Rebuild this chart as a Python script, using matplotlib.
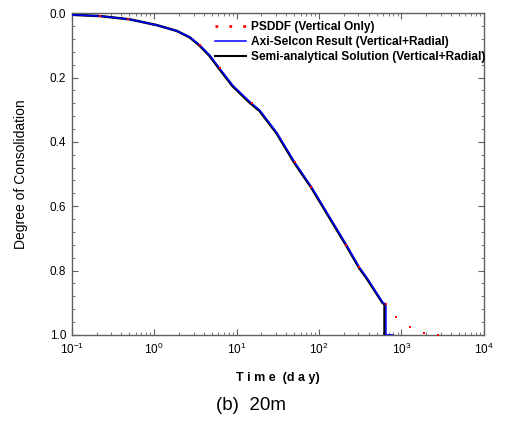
import numpy as np
import matplotlib
matplotlib.use('Agg')
import matplotlib.pyplot as plt
from matplotlib.lines import Line2D
from matplotlib.ticker import LogLocator, MultipleLocator, FixedLocator

plt.rcParams['font.family'] = ['Liberation Sans', 'DejaVu Sans']

# PSDDF (vertical only) - sparse red dots
t_psddf = [0.22, 0.48, 3.6, 6.3, 15.4, 50.5, 81, 215, 309, 642, 870, 1260, 1860, 2750]
u_psddf = [0.009, 0.018, 0.099, 0.171, 0.28, 0.463, 0.54, 0.72, 0.79, 0.905, 0.944, 0.975, 0.994, 1.0]

# Axi-Selcon result (vertical + radial)
t_axi = [0.1, 0.22, 0.5, 1.07, 1.87, 2.69, 3.56, 4.7, 6.2, 8.95, 14.4, 19, 30.5, 50.5,
         81, 134, 215, 309, 376, 589, 640, 650, 650, 780]
u_axi = [0.005, 0.009, 0.019, 0.037, 0.055, 0.074, 0.099, 0.13, 0.171, 0.224, 0.275,
         0.301, 0.37, 0.463, 0.54, 0.633, 0.72, 0.79, 0.82, 0.898, 0.905, 0.91, 1.0, 1.0]

# Semi-analytical solution (vertical + radial)
t_semi = [0.1, 0.22, 0.5, 1.07, 1.87, 2.69, 3.56, 4.7, 6.2, 8.95, 14.4, 19, 30.5, 50.5,
          81, 134, 215, 309, 376, 589, 625, 625]
u_semi = [0.005, 0.009, 0.019, 0.037, 0.055, 0.075, 0.101, 0.133, 0.174, 0.227, 0.278,
          0.304, 0.373, 0.466, 0.543, 0.636, 0.723, 0.793, 0.823, 0.9, 0.905, 1.0]

fig = plt.figure(figsize=(5.13, 4.25), dpi=100)
ax = fig.add_axes([0.140, 0.212, 0.803, 0.757])

ax.plot(t_semi, u_semi, color='black', linewidth=1.8, zorder=2)
ax.plot(t_axi, u_axi, color='blue', linewidth=1.1, zorder=3)
ax.plot(t_psddf, u_psddf, linestyle='none', marker='s', markersize=1.8,
        color='red', markeredgewidth=0, zorder=4)

ax.set_xscale('log')
ax.set_xlim(0.1, 1e4)
ax.set_ylim(1.0, 0.0)
ax.xaxis.set_major_locator(LogLocator(base=10, numticks=10))
ax.xaxis.set_minor_locator(LogLocator(base=10, subs=np.arange(2, 10), numticks=20))
ax.yaxis.set_major_locator(FixedLocator([0.0, 0.2, 0.4, 0.6, 0.8, 1.0]))
ax.yaxis.set_minor_locator(MultipleLocator(0.04))
ax.set_yticklabels(['0.0', '0.2', '0.4', '0.6', '0.8', '1.0'])

spine_col = '#606060'
for s in ax.spines.values():
    s.set_color(spine_col)
    s.set_linewidth(1.0)
ax.tick_params(which='both', direction='in', top=True, right=True, color=spine_col,
               labelsize=8.5)
ax.tick_params(axis='x', pad=5)
ax.tick_params(axis='y', pad=4)
ax.tick_params(which='major', length=4)
ax.tick_params(which='minor', length=2.5)

ax.set_ylabel('Degree of Consolidation', fontsize=10, labelpad=16)
ax.set_xlabel('T i m e  (d a y)', fontsize=9, fontweight='bold', labelpad=11)

handles = [Line2D([], [], color='red', linestyle=(0, (1, 4)), linewidth=2),
           Line2D([], [], color='blue', linewidth=1.1),
           Line2D([], [], color='black', linewidth=1.5)]
labels = ['PSDDF (Vertical Only)', 'Axi-Selcon Result (Vertical+Radial)',
          'Semi-analytical Solution (Vertical+Radial)']
ax.legend(handles, labels, loc='upper left', bbox_to_anchor=(0.335, 0.99),
          frameon=False, prop={'size': 8.6, 'weight': 'bold'},
          handlelength=2.6, handletextpad=0.45, labelspacing=0.25, borderaxespad=0)

fig.text(0.49, 0.035, '(b)  20m', ha='center', fontsize=13.5)

fig.savefig('out.png', dpi=100)
